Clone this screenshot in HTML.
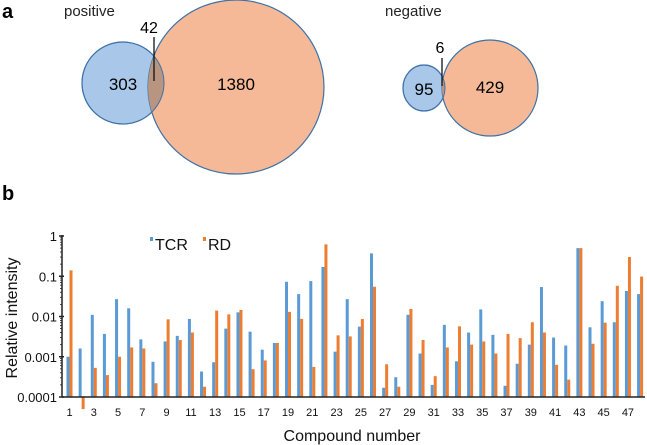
<!DOCTYPE html>
<html><head><meta charset="utf-8"><style>
body{margin:0;background:#fff;}
svg{display:block;font-family:"Liberation Sans",Arial,sans-serif;}
</style></head><body>
<svg width="647" height="445" viewBox="0 0 647 445">
<g>
<text x="2" y="18" font-size="20" font-weight="bold">a</text>
<text x="64" y="16" font-size="15" fill="#222">positive</text>
<ellipse cx="123" cy="83" rx="41" ry="41" fill="#a9c8e9" stroke="#3f72a6" stroke-width="1.2"/>
<ellipse cx="236" cy="87" rx="88" ry="87" fill="#f5b997" stroke="#3f72a6" stroke-width="1.2"/>
<clipPath id="c1"><ellipse cx="123" cy="83" rx="41" ry="41"/></clipPath>
<ellipse cx="236" cy="87" rx="88" ry="87" fill="#b79580" clip-path="url(#c1)"/>
<ellipse cx="123" cy="83" rx="41" ry="41" fill="none" stroke="#3f72a6" stroke-width="1"/>
<text x="123" y="90" font-size="17" text-anchor="middle">303</text>
<text x="236" y="90" font-size="17" text-anchor="middle">1380</text>
<text x="149" y="33" font-size="16" text-anchor="middle">42</text>
<line x1="154" y1="37" x2="154" y2="81" stroke="#111" stroke-width="1.3"/>
<text x="385" y="16" font-size="15" fill="#222">negative</text>
<ellipse cx="424" cy="88" rx="21" ry="23" fill="#a9c8e9" stroke="#3f72a6" stroke-width="1.2"/>
<ellipse cx="490" cy="88" rx="48" ry="48" fill="#f5b997" stroke="#3f72a6" stroke-width="1.2"/>
<clipPath id="c2"><ellipse cx="424" cy="88" rx="21" ry="23"/></clipPath>
<ellipse cx="490" cy="88" rx="48" ry="48" fill="#b79580" clip-path="url(#c2)"/>
<ellipse cx="424" cy="88" rx="21" ry="23" fill="none" stroke="#3f72a6" stroke-width="1"/>
<text x="424" y="95" font-size="17" text-anchor="middle">95</text>
<text x="490" y="93" font-size="17" text-anchor="middle">429</text>
<text x="440" y="53" font-size="16" text-anchor="middle">6</text>
<line x1="442" y1="58" x2="442" y2="86" stroke="#111" stroke-width="1.3"/>
</g>
<text x="2" y="200" font-size="20" font-weight="bold">b</text>
<g id="chart"></g>
</svg>
<script>
const categories=[];for(let i=1;i<=48;i++)categories.push(i);
const tcrValues=[0.001,0.0016,0.011,0.0037,0.027,0.016,0.0027,0.00075,0.0024,0.0033,0.0087,0.00043,0.00073,0.005,0.0127,0.0042,0.0015,0.0022,0.073,0.036,0.076,0.17,0.00134,0.027,0.0056,0.37,0.00017,0.00031,0.011,0.0012,0.0002,0.0062,0.00077,0.004,0.015,0.0035,0.00019,0.00067,0.002,0.054,0.003,0.0019,0.5,0.0054,0.024,0.0072,0.043,0.036];
const rdValues=[0.14,0.00005,0.00053,0.00035,0.001,0.0017,0.0016,0.00022,0.0085,0.0026,0.004,0.00018,0.014,0.0113,0.0145,0.00049,0.00081,0.0022,0.013,0.0087,0.00056,0.62,0.0034,0.0032,0.0087,0.055,0.00065,0.00018,0.0154,0.0026,0.00033,0.0017,0.0057,0.002,0.0024,0.0012,0.0037,0.0029,0.0072,0.004,0.00063,0.00027,0.5,0.0021,0.007,0.058,0.3,0.098];
const yTickValues=[1,0.1,0.01,0.001,0.0001];
const yTickLabels=["1","0.1","0.01","0.001","0.0001"];
const NS="http://www.w3.org/2000/svg";
const g=document.getElementById('chart');
const X0=62,X1=645,Y0=397,DEC=40.25;
function yScale(v){return Y0-(Math.log10(v)+4)*DEC;}
function xScale(i){return 69.5+i*12.14;}
function mk(t,a,p){const e=document.createElementNS(NS,t);for(const k in a)e.setAttribute(k,a[k]);(p||g).appendChild(e);return e;}
categories.forEach((c,i)=>{
  const cx=xScale(i);
  const yt=yScale(tcrValues[i]);
  const b1=mk('rect',{x:cx-3,y:Math.min(yt,Y0),width:3,height:Math.abs(Y0-yt),fill:'#5b9bd5'});
  
  
  const yr=yScale(rdValues[i]);
  const b2=mk('rect',{x:cx,y:Math.min(yr,Y0),width:3,height:Math.abs(Y0-yr),fill:'#ed7d31'});
  
  
  if(c%2===1){
    const t=mk('text',{x:cx,y:416,'font-size':11,'text-anchor':'middle',fill:'#111'});
    t.textContent=c;
    
    
  }
});
const ax=mk('line',{x1:X0,y1:Y0,x2:X1,y2:Y0,stroke:'#222','stroke-width':1.5});


const ay=mk('line',{x1:X0,y1:235,x2:X0,y2:Y0,stroke:'#222','stroke-width':1.5});


yTickValues.forEach((v,k)=>{
  const y=yScale(v);
  const tk=mk('line',{x1:X0-3,y1:y,x2:X0+2,y2:y,stroke:'#222','stroke-width':1.5});
  
  
  if(k<yTickValues.length-1){for(let m=2;m<=9;m++){const ym=yScale(v/10*m);
    const mt=mk('line',{x1:X0-2,y1:ym,x2:X0,y2:ym,stroke:'#222','stroke-width':0.8});
    
    }}
  const t=mk('text',{x:X0-5,y:y+5,'font-size':13,'text-anchor':'end',fill:'#111'});
  t.textContent=yTickLabels[k];
  
  
});
const yt=mk('text',{x:0,y:0,'font-size':16,'text-anchor':'middle',transform:'translate(17,318) rotate(-90)',fill:'#111'});
yt.textContent='Relative intensity';


const xt=mk('text',{x:352,y:441,'font-size':16,'text-anchor':'middle',fill:'#111'});
xt.textContent='Compound number';


const l1=mk('rect',{x:150,y:237,width:3,height:4,fill:'#5b9bd5'});


const l1t=mk('text',{x:155,y:250,'font-size':16,fill:'#111'});
l1t.textContent='TCR';


const l2=mk('rect',{x:203,y:237,width:3,height:4,fill:'#ed7d31'});


const l2t=mk('text',{x:208,y:250,'font-size':16,fill:'#111'});
l2t.textContent='RD';


</script>
</body></html>
